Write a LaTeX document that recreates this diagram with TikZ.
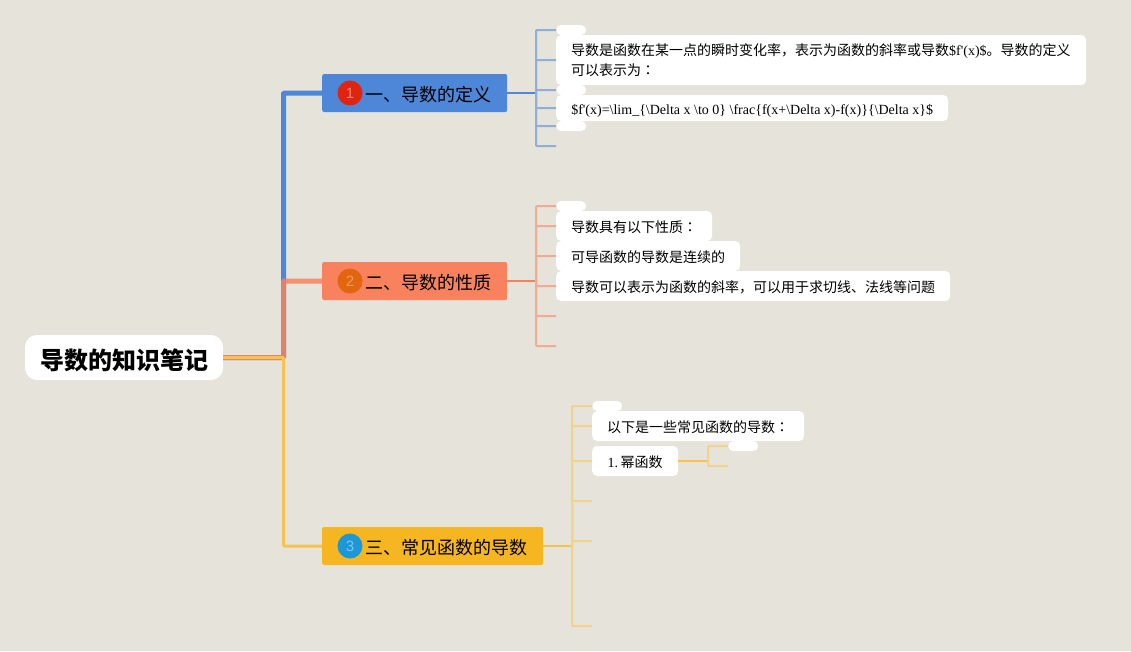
\documentclass[tikz,border=0pt]{standalone}
\usepackage{fontspec}
\setmainfont{Liberation Serif}
\newfontfamily\cjk{Noto Sans CJK SC}
\newfontfamily\cjkjp{Noto Sans CJK JP}
\newfontfamily\digits{Liberation Sans}
\usetikzlibrary{positioning}

\definecolor{paper}{HTML}{E6E3DA}
\definecolor{bluemain}{HTML}{4E86D8}
\definecolor{redmain}{HTML}{F8825E}
\definecolor{yellowmain}{HTML}{F5B622}
\definecolor{bluesoft}{HTML}{8FAFD8}
\definecolor{redsoft}{HTML}{F0AB92}
\definecolor{yellowsoft}{HTML}{F2D28E}
\definecolor{yellowline}{HTML}{F6C34E}
\definecolor{badgered}{HTML}{E0240F}
\definecolor{badgeorange}{HTML}{E2650F}
\definecolor{badgeblue}{HTML}{1C97D8}

\newcommand{\widecolon}{{\cjkjp ：}}

\begin{document}
\begin{tikzpicture}[
    x=1pt, y=-1pt,
    root/.style={fill=white, rounded corners=12pt, minimum width=198pt, minimum height=45pt,
        inner sep=0pt, text height=26pt, text depth=3pt, font=\fontsize{24}{28}\selectfont\cjk\bfseries},
    topic/.style={rounded corners=2pt, inner xsep=16pt, inner ysep=0pt, minimum height=38pt,
        text height=18pt, text depth=2pt, anchor=west, font=\fontsize{18}{22}\selectfont\cjk},
    badge/.style={circle, minimum size=25pt, inner sep=0pt, font=\fontsize{15}{18}\selectfont\digits},
    leaf/.style={fill=white, rounded corners=5pt, inner xsep=15pt, inner ysep=0pt, minimum height=30pt,
        text height=13pt, text depth=1pt, anchor=west, font=\fontsize{14}{20}\selectfont},
    blank/.style={fill=white, rounded corners=5pt, inner sep=0pt, minimum width=30pt, minimum height=10pt,
        anchor=west},
    trunk/.style={line width=5pt, rounded corners=1pt},
    twig/.style={line width=2pt, rounded corners=1pt}
]

\useasboundingbox[fill=paper] (0,0) rectangle (1131,651);

% --- Root ---
\node[root] (root) at (124,357.5) {导数的知识笔记};

% --- Topics ---
\node[topic, fill=bluemain] (def) at (322,93) {\hspace*{27pt}一、导数的定义};
\node[topic, fill=redmain] (prop) at (322,281) {\hspace*{27pt}二、导数的性质};
\node[topic, fill=yellowmain] (common) at (322,546) {\hspace*{27pt}三、常见函数的导数};

\node[badge, fill=badgered, text=badgered!55!white] (n1) at (350,93) {1};
\node[badge, fill=badgeorange, text=badgeorange!65!white] (n2) at (350,281) {2};
\node[badge, fill=badgeblue, text=badgeblue!55!white] (n3) at (350,546) {3};

% --- Topic one leaves ---
\node[blank] (a1) at (556,30) {};
\node[leaf, text width=500pt, align=left, text height=13pt, text depth=22.4pt, minimum height=50pt] (a2) at (556,60)
    {{\cjk 导数是函数在某一点的瞬时变化率，表示为函数的斜率或导数}\$f\textquotesingle(x)\${\cjk 。导数的定义}\\
     {\cjk 可以表示为}\widecolon};
\node[blank] (a3) at (556,90) {};
\node[leaf, minimum width=392pt, minimum height=26pt] (a4) at (556,108)
    {\$f\textquotesingle(x)=\textbackslash lim\_\{\textbackslash Delta x \textbackslash to 0\} \textbackslash frac\{f(x+\textbackslash Delta x)-f(x)\}\{\textbackslash Delta x\}\$};
\node[blank] (a5) at (556,126) {};
\coordinate (a6) at (556,146);

% --- Topic two leaves ---
\node[blank] (b1) at (556,206) {};
\node[leaf, minimum width=156pt] (b2) at (556,226) {{\cjk 导数具有以下性质}\widecolon};
\node[leaf, minimum width=184pt] (b3) at (556,256) {{\cjk 可导函数的导数是连续的}};
\node[leaf, minimum width=394pt] (b4) at (556,286) {{\cjk 导数可以表示为函数的斜率，可以用于求切线、法线等问题}};
\coordinate (b5) at (556,316);
\coordinate (b6) at (556,346);

% --- Topic three leaves ---
\node[blank] (c1) at (592,406) {};
\node[leaf, minimum width=212pt] (c2) at (592,426) {{\cjk 以下是一些常见函数的导数}\widecolon};
\node[leaf, minimum width=86pt] (c3) at (592,461) {1.\hspace{2.5pt}{\cjk 幂函数}};
\coordinate (c4) at (592,501);
\coordinate (c5) at (592,541);
\coordinate (c6) at (592,626);
\node[blank] (d1) at (728,446) {};
\coordinate (d2) at (728,466);

% --- Forks ---
\coordinate (fork) at (283.5,357.5);
\coordinate (forka) at (536,93);
\coordinate (forkb) at (536,281);
\coordinate (forkc) at (572,546);
\coordinate (forkd) at (708,461);

% --- Main branches ---
\draw[trunk, bluemain] (root.east) -- (fork) |- (def.west);
\draw[trunk, redmain, draw opacity=.85] (root.east) -- (fork) |- (prop.west);
\draw[trunk, yellowline, line width=3pt] (root.east) -- (fork) |- (common.west);

% --- Stems ---
\draw[twig, bluemain] (def.east) -- (forka);
\draw[twig, redmain] (prop.east) -- (forkb);
\draw[twig, yellowline] (common.east) -- (forkc);
\draw[twig, yellowline] (c3.east) -- (forkd);

% --- Twigs ---
\foreach \i in {a1,a2,a3,a4,a5}
{
    \draw[twig, bluesoft] (forka) |- (\i.west);
}
\draw[twig, bluesoft] (forka) |- (a6);

\foreach \i in {b1,b2,b3,b4}
{
    \draw[twig, redsoft] (forkb) |- (\i.west);
}
\draw[twig, redsoft] (forkb) |- (b5);
\draw[twig, redsoft] (forkb) |- (b6);

\foreach \i in {c1,c2,c3}
{
    \draw[twig, yellowsoft] (forkc) |- (\i.west);
}
\foreach \i in {c4,c5,c6}
{
    \draw[twig, yellowsoft] (forkc) |- (\i);
}

\draw[twig, yellowsoft] (forkd) |- (d1.west);
\draw[twig, yellowsoft] (forkd) |- (d2);

\end{tikzpicture}
\end{document}
